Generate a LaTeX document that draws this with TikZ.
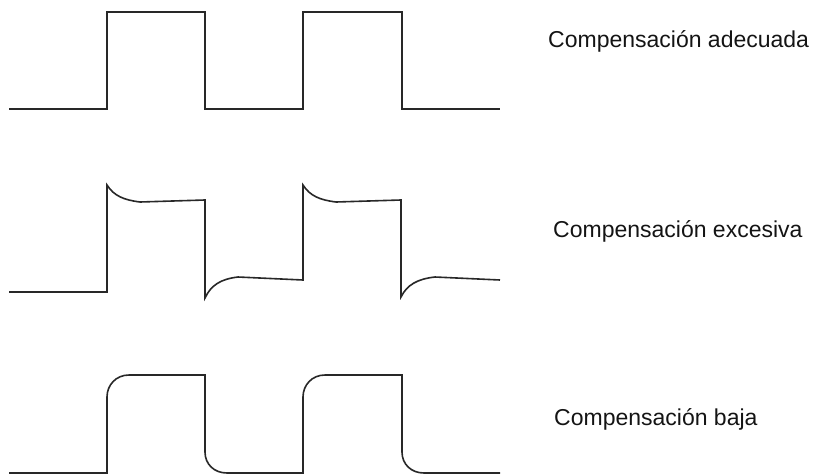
\documentclass[tikz,border=0pt]{standalone}
\usepackage{fontspec}
\setmainfont{Liberation Sans}
\usepackage{xcolor}
\usepackage{tikz}
\usetikzlibrary{positioning}
\definecolor{traceink}{RGB}{40,40,40}
\definecolor{labelink}{RGB}{20,20,20}

\begin{document}
\begin{tikzpicture}[x=1pt,y=-1pt,every node/.style={font=\fontsize{23}{27}\selectfont}]
\tikzstyle{trace}=[draw=traceink,line width=1.6pt,line join=miter]
\tikzstyle{caption}=[anchor=base west,inner sep=0pt,text=labelink]
\useasboundingbox (0,0) rectangle (816,474);
% compensacion adecuada
\draw[trace] (9,109) -- (107,109) -- (107,12) -- (205,12) -- (205,109) -- (303,109)
  -- (303,12) -- (402,12) -- (402,109) -- (500,109);
% compensacion excesiva
\draw[trace] (9,292) -- (107,292) -- (107,185)
  .. controls (114,196) and (124,200) .. (140,202) -- (205,200) -- (205,298)
  .. controls (211,285) and (221,279) .. (238,277) -- (303,280) -- (303,185)
  .. controls (310,196) and (320,200) .. (336,202) -- (401,200) -- (401,297)
  .. controls (407,285) and (417,279) .. (435,277) -- (500,280);
% compensacion baja
\draw[trace] (9,473) -- (107,473) -- (107,397)
  .. controls (107,385) and (116,375) .. (129,375) -- (205,375) -- (205,452)
  .. controls (205,464) and (214,473) .. (227,473) -- (303,473) -- (303,397)
  .. controls (303,385) and (312,375) .. (325,375) -- (402,375) -- (402,452)
  .. controls (402,464) and (411,473) .. (424,473) -- (500,473);
\node[caption] (adecuada) at (548,47) {Compensación adecuada};
\node[caption] (excesiva) at (553,237) {Compensación excesiva};
\node[caption] (baja) at (554,425) {Compensación baja};
\end{tikzpicture}
\end{document}
